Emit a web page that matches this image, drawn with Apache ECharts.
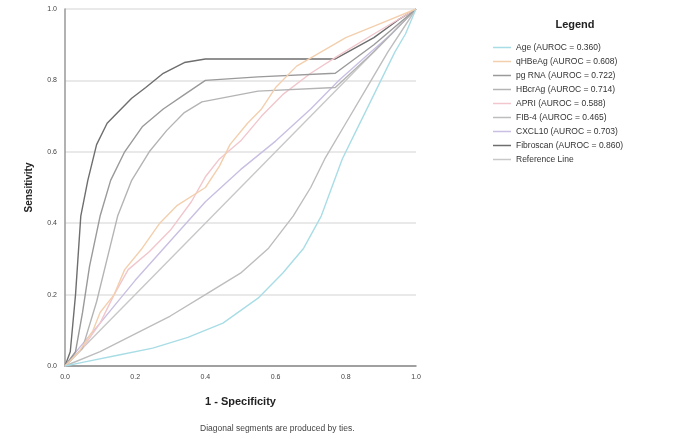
<!DOCTYPE html>
<html><head><meta charset="utf-8">
<script src="https://cdn.jsdelivr.net/npm/echarts@6/dist/echarts.min.js"></script>
<style>html,body{margin:0;padding:0;background:#fff}#c{width:676px;height:439px}</style>
</head><body><div id="c"></div>
<script>
const axisTicks = [0.0, 0.2, 0.4, 0.6, 0.8, 1.0];
const seriesNames = [
  'Age (AUROC = 0.360)',
  'qHBeAg (AUROC = 0.608)',
  'pg RNA (AUROC = 0.722)',
  'HBcrAg (AUROC = 0.714)',
  'APRI (AUROC = 0.588)',
  'FIB-4 (AUROC = 0.465)',
  'CXCL10 (AUROC = 0.703)',
  'Fibroscan (AUROC = 0.860)',
  'Reference Line'
];
const ageCurve = [[0,0],[0.05,0.01],[0.15,0.03],[0.25,0.05],[0.35,0.08],[0.45,0.12],[0.55,0.19],[0.62,0.26],[0.68,0.33],[0.73,0.42],[0.76,0.5],[0.79,0.58],[0.83,0.66],[0.87,0.74],[0.9,0.8],[0.94,0.88],[0.97,0.93],[1,1]];
const qhbeagCurve = [[0,0],[0.04,0.04],[0.08,0.1],[0.1,0.15],[0.14,0.2],[0.17,0.27],[0.22,0.33],[0.27,0.4],[0.32,0.45],[0.4,0.5],[0.44,0.56],[0.47,0.62],[0.52,0.68],[0.56,0.72],[0.6,0.78],[0.66,0.84],[0.73,0.88],[0.8,0.92],[0.9,0.96],[1,1]];
const pgrnaCurve = [[0,0],[0.03,0.04],[0.05,0.15],[0.07,0.28],[0.1,0.42],[0.13,0.52],[0.17,0.6],[0.22,0.67],[0.28,0.72],[0.34,0.76],[0.4,0.8],[0.55,0.81],[0.77,0.82],[0.88,0.9],[1,1]];
const hbcragCurve = [[0,0],[0.05,0.05],[0.09,0.18],[0.12,0.3],[0.15,0.42],[0.19,0.52],[0.24,0.6],[0.29,0.66],[0.34,0.71],[0.39,0.74],[0.55,0.77],[0.77,0.78],[0.88,0.88],[1,1]];
const apriCurve = [[0,0],[0.05,0.05],[0.1,0.12],[0.14,0.2],[0.18,0.27],[0.24,0.32],[0.3,0.38],[0.36,0.46],[0.4,0.53],[0.44,0.58],[0.5,0.63],[0.56,0.7],[0.62,0.76],[0.7,0.82],[0.78,0.87],[0.88,0.93],[1,1]];
const fib4Curve = [[0,0],[0.1,0.04],[0.2,0.09],[0.3,0.14],[0.4,0.2],[0.5,0.26],[0.58,0.33],[0.65,0.42],[0.7,0.5],[0.74,0.58],[0.8,0.68],[0.86,0.78],[0.92,0.88],[1,1]];
const cxcl10Curve = [[0,0],[0.04,0.05],[0.1,0.12],[0.2,0.24],[0.3,0.35],[0.4,0.46],[0.5,0.55],[0.6,0.63],[0.7,0.72],[0.78,0.8],[0.86,0.87],[0.93,0.93],[1,1]];
const fibroscanCurve = [[0,0],[0.015,0.04],[0.03,0.2],[0.045,0.42],[0.065,0.52],[0.09,0.62],[0.12,0.68],[0.15,0.71],[0.19,0.75],[0.23,0.78],[0.28,0.82],[0.34,0.85],[0.4,0.86],[0.77,0.86],[0.88,0.92],[0.95,0.97],[1,1]];
const refLine = [[0,0],[1,1]];

const curves = [ageCurve, qhbeagCurve, pgrnaCurve, hbcragCurve, apriCurve, fib4Curve, cxcl10Curve, fibroscanCurve, refLine];
const colors = ['#a9dde6','#f3cfae','#9a9a9a','#b4b4b4','#f1c6cc','#bdbdbd','#c9bfe2','#6e6e6e','#c8c8c8'];

const chart = echarts.init(document.getElementById('c'), null, {renderer:'canvas'});
chart.setOption({
  backgroundColor:'#fff',
  animation:false,
  title:{text:'Legend', left:570, top:14, textAlign:'center', textStyle:{fontSize:11, fontWeight:'bold', color:'#222', fontFamily:'Liberation Sans'}},
  legend:{
    orient:'vertical', left:488, top:38, itemWidth:18, itemHeight:8, itemGap:5,
    icon:'path://M0,4L18,4L18,5.5L0,5.5Z',
    textStyle:{fontSize:8.5, color:'#333', fontFamily:'Liberation Sans'},
    data:seriesNames
  },
  grid:{left:65, right:260, top:9, bottom:73},
  xAxis:{type:'value', min:0, max:1, interval:0.2,
    name:'1 - Specificity', nameLocation:'middle', nameGap:30,
    nameTextStyle:{fontSize:11, fontWeight:'bold', color:'#222', fontFamily:'Liberation Sans'},
    axisLine:{lineStyle:{color:'#888', width:1.5}}, axisTick:{show:false},
    axisLabel:{fontSize:7, color:'#444', formatter:v=>v.toFixed(1)},
    splitLine:{show:false}},
  yAxis:{type:'value', min:0, max:1, interval:0.2,
    name:'Sensitivity', nameLocation:'middle', nameGap:31, nameRotate:90,
    nameTextStyle:{fontSize:10, fontWeight:'bold', color:'#222', fontFamily:'Liberation Sans'},
    axisLine:{show:true, lineStyle:{color:'#999', width:1.5}}, axisTick:{show:false},
    axisLabel:{fontSize:7, color:'#444', formatter:v=>v.toFixed(1)},
    splitLine:{show:true, lineStyle:{color:'#e2e2e2', width:1.5}}},
  graphic:[{type:'text', left:200, top:424, style:{text:'Diagonal segments are produced by ties.', fontSize:8.5, fill:'#444', fontFamily:'Liberation Sans'}}],
  series: seriesNames.map((n,i)=>({
    name:n, type:'line', data:curves[i], showSymbol:false, symbol:'none', smooth:false,
    lineStyle:{color:colors[i], width:1.4}, itemStyle:{color:colors[i]}, z: 10-i
  }))
});
</script></body></html>
